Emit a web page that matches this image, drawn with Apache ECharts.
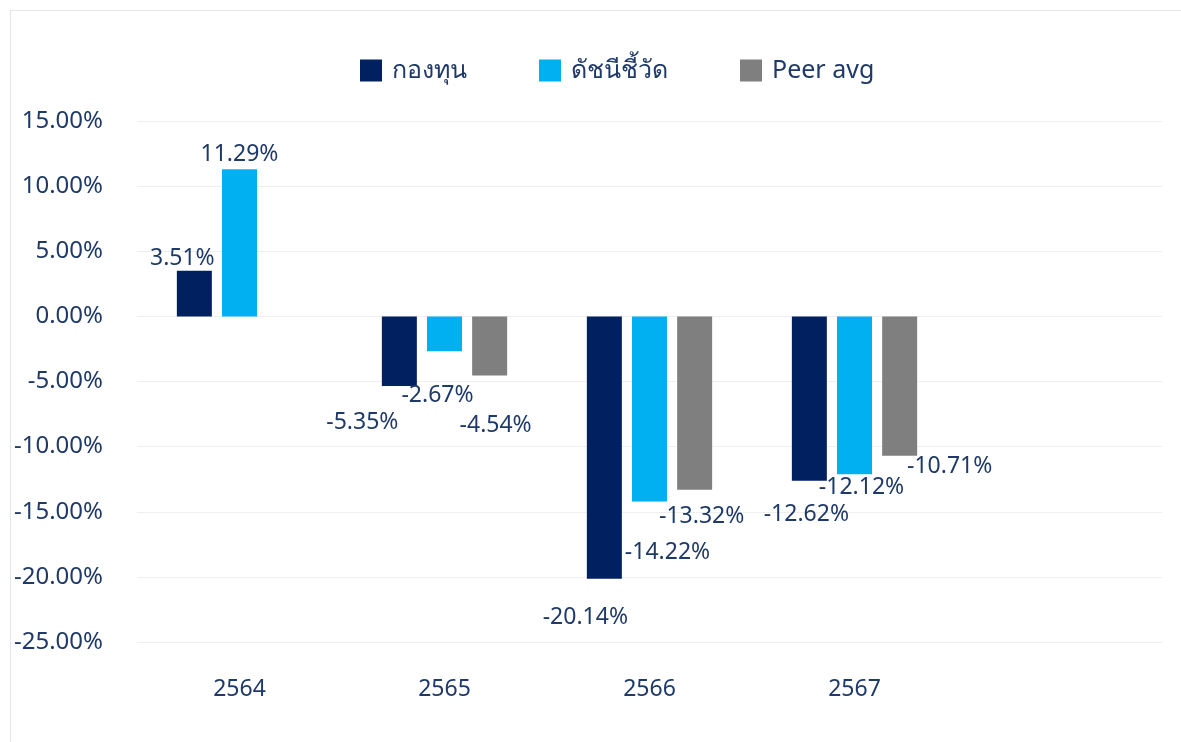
<!DOCTYPE html>
<html>
<head>
    <meta charset="UTF-8"/>
    <title>chart</title>
    <script src="https://cdn.jsdelivr.net/npm/echarts@6/dist/echarts.min.js"></script>
    <style>
        html, body { margin: 0; padding: 0; background: #fff; }
        #frame { position: absolute; left: 10px; top: 10px; width: 1180px; height: 740px; border-left: 1px solid #e6e6e6; border-top: 1px solid #e6e6e6; }
        #chart { position: absolute; left: 0; top: 0; width: 1181px; height: 742px; }
    </style>
</head>
<body>
<div id="frame"></div>
<div id="chart"></div>
<script>
    // ปี (category) - the 5th slot is empty in the original sheet
    var years = ['2564', '2565', '2566', '2567', ''];
    var seriesNames = ['กองทุน', 'ดัชนีชี้วัด', 'Peer avg'];
    var fund = [3.51, -5.35, -20.14, -12.62, null];
    var benchmark = [11.29, -2.67, -14.22, -12.12, null];
    var peer = [null, -4.54, -13.32, -10.71, null];
    var yTicks = [-25, -20, -15, -10, -5, 0, 5, 10, 15];

    // label nudges, copied by eye from the excel layout
    var fundOffsets = [[-12, 3], [-37, 21], [-19, 23], [-3, 18], [0, 0]];
    var benchOffsets = [[0, 1], [-7, 29], [18, 35], [7, -2], [0, 0]];
    var peerOffsets = [[0, 0], [6, 34], [7, 11], [50, -5], [0, 0]];

    var textColor = '#1f3a68';
    var colors = ['#002060', '#00b0f0', '#7f7f7f'];
    var font = '"Noto Sans", "DejaVu Sans", sans-serif';

    function build(values, offsets) {
        return values.map(function (v, i) {
            if (v === null) return '-';
            return {
                value: v,
                label: {
                    position: v >= 0 ? 'top' : 'bottom',
                    offset: offsets[i]
                }
            };
        });
    }

    var chart = echarts.init(document.getElementById('chart'));
    chart.setOption({
        backgroundColor: 'transparent',
        animation: false,
        textStyle: { fontFamily: font },
        legend: {
            top: 53,
            left: 355,
            itemWidth: 22,
            itemHeight: 22,
            itemGap: 72,
            icon: 'rect',
            textStyle: { color: textColor, fontSize: 25, fontFamily: font, padding: [0, 0, 0, 5] },
            data: seriesNames
        },
        grid: { left: 137, right: 19, top: 121, bottom: 100, containLabel: false },
        xAxis: {
            type: 'category',
            data: years,
            axisLine: { show: false },
            axisTick: { show: false },
            axisLabel: { color: textColor, fontSize: 23, margin: 36, fontFamily: font }
        },
        yAxis: {
            type: 'value',
            min: yTicks[0],
            max: yTicks[yTicks.length - 1],
            interval: 5,
            axisLine: { show: false },
            axisTick: { show: false },
            splitLine: { lineStyle: { color: '#efefef', width: 1 } },
            axisLabel: {
                color: textColor, fontSize: 24, margin: 34, fontFamily: font,
                formatter: function (v) { return v.toFixed(2) + '%'; }
            }
        },
        series: [
            { name: seriesNames[0], values: fund, offsets: fundOffsets },
            { name: seriesNames[1], values: benchmark, offsets: benchOffsets },
            { name: seriesNames[2], values: peer, offsets: peerOffsets }
        ].map(function (s, i) {
            return {
                name: s.name,
                type: 'bar',
                barWidth: 35,
                barGap: '29%',
                itemStyle: { color: colors[i] },
                label: {
                    show: true,
                    color: textColor,
                    fontSize: 23,
                    fontFamily: font,
                    distance: 4,
                    formatter: function (p) { return p.value.toFixed(2) + '%'; }
                },
                data: build(s.values, s.offsets)
            };
        })
    });
</script>
</body>
</html>
